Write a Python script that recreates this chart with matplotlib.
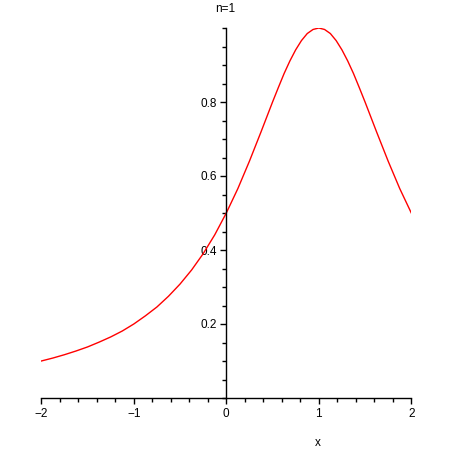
import matplotlib
matplotlib.use("Agg")
import matplotlib.pyplot as plt
from matplotlib.ticker import MultipleLocator, FixedLocator

x_vals = [-2.0, -1.875, -1.75, -1.625, -1.5, -1.375, -1.25, -1.125, -1.0,
          -0.875, -0.75, -0.625, -0.5, -0.375, -0.25, -0.125, 0.0,
          0.125, 0.25, 0.375, 0.5, 0.5625, 0.625, 0.6875, 0.75, 0.8125, 0.875, 0.9375, 1.0,
          1.0625, 1.125, 1.1875, 1.25, 1.3125, 1.375, 1.4375, 1.5, 1.625, 1.75, 1.875, 2.0]
y_vals = [0.100, 0.108, 0.117, 0.127, 0.138, 0.151, 0.165, 0.181, 0.200,
          0.222, 0.246, 0.275, 0.308, 0.346, 0.390, 0.441, 0.500,
          0.566, 0.640, 0.719, 0.800, 0.839, 0.877, 0.911, 0.941, 0.966, 0.985, 0.996, 1.000,
          0.996, 0.985, 0.966, 0.941, 0.911, 0.877, 0.839, 0.800, 0.719, 0.640, 0.566, 0.500]
x_ticks = [-2, -1, 0, 1, 2]
y_ticks = [0.2, 0.4, 0.6, 0.8]
title = "n=1"
xlabel = "x"

plt.rcParams['font.family'] = ['Liberation Sans', 'DejaVu Sans']
fig = plt.figure(figsize=(4.5, 4.5), dpi=100)
ax = fig.add_axes([41.3/450, 52/450, 370/450, 370/450])
ax.plot(x_vals, y_vals, color='red', lw=1.0)
ax.set_xlim(-2, 2)
ax.set_ylim(0, 1.0)

for s in ['top', 'right']:
    ax.spines[s].set_visible(False)
ax.spines['left'].set_position(('data', 0))
ax.spines['bottom'].set_position(('data', 0))
for s in ['left', 'bottom']:
    ax.spines[s].set_linewidth(1.0)

ax.xaxis.set_major_locator(FixedLocator(x_ticks))
ax.xaxis.set_minor_locator(MultipleLocator(0.2))
ax.yaxis.set_major_locator(FixedLocator(y_ticks))
ax.yaxis.set_minor_locator(MultipleLocator(0.05))
ax.set_xticklabels([str(t) if t >= 0 else "\u2212" + str(-t) for t in x_ticks])
ax.set_yticklabels([f"{t:.1f}" for t in y_ticks])
ax.tick_params(which='major', direction='out', length=4, width=1, labelsize=8.5, pad=3)
ax.tick_params(which='minor', direction='out', length=3, width=1)

fig.text(225/450, 1 - 9/450, title, ha='center', va='center', fontsize=8.5)
fig.text(318/450, 1 - 443/450, xlabel, ha='center', va='center', fontsize=8.5)

fig.savefig("out.png", dpi=100)
